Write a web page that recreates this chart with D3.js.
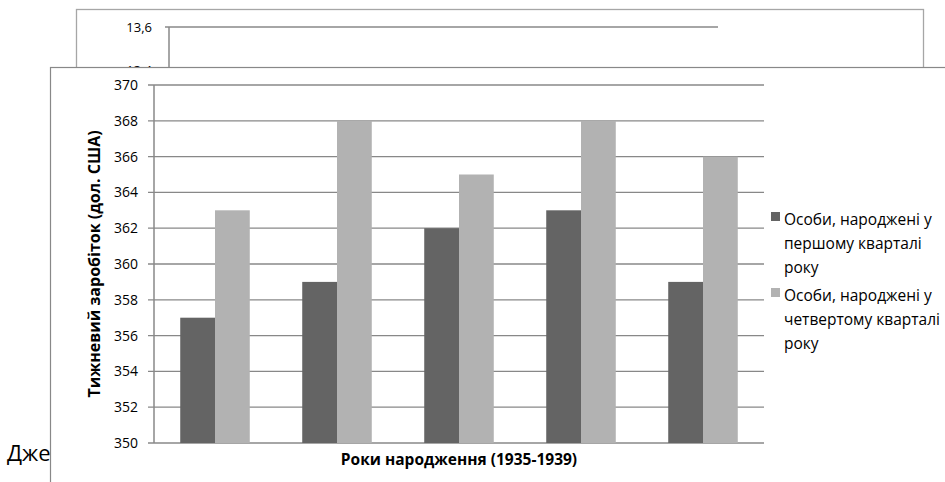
<!DOCTYPE html>
<html><head><meta charset="utf-8">
<script src="https://cdn.jsdelivr.net/npm/d3@7"></script>
<style>body{margin:0;background:#fff}svg{display:block;font-family:Calibri,Carlito,"Liberation Sans",Arial,sans-serif}</style>
</head><body>
<script>
const categories = ["1935","1936","1937","1938","1939"];
const seriesNames = ["Особи, народжені у першому кварталі року", "Особи, народжені у четвертому кварталі року"];
const q1Values = [357, 359, 362, 363, 359];
const q4Values = [363, 368, 365, 368, 366];
const yTicks = [350,352,354,356,358,360,362,364,366,368,370];
const legendLines = [["Особи, народжені у","першому кварталі","року"],["Особи, народжені у","четвертому кварталі","року"]];
const backTicks = [13.4, 13.6];

const W=945,H=482;
const svg=d3.select("body").append("svg").attr("width",W).attr("height",H);
const os='"Open Sans","Noto Sans",sans-serif';

// left text behind
svg.append("text").attr("x",7).attr("y",461).attr("font-size",22).attr("fill","#000")
  .attr("font-family",os).text("Джеймс");

// back chart
svg.append("rect").attr("x",76.5).attr("y",9.5).attr("width",847).attr("height",200)
  .attr("fill","#fff").attr("stroke","#a6a6a6").attr("stroke-width",1.3);
const yb=d3.scaleLinear().domain([13.4,13.6]).range([70,27]);
backTicks.forEach(t=>{
  svg.append("text").attr("x",152).attr("y",yb(t)+4.5).attr("text-anchor","end")
    .attr("font-size",13).attr("font-family",os).text(d3.format(".1f")(t).replace(".",","));
});
svg.append("line").attr("x1",165).attr("x2",718).attr("y1",yb(13.6)).attr("y2",yb(13.6)).attr("stroke","#888").attr("stroke-width",1.3);
svg.append("line").attr("x1",169).attr("x2",169).attr("y1",yb(13.6)).attr("y2",120).attr("stroke","#888").attr("stroke-width",1.5);

// front chart box
svg.append("rect").attr("x",50.5).attr("y",67.5).attr("width",1000).attr("height",500)
  .attr("fill","#fff").attr("stroke","#888").attr("stroke-width",1.2);

const x0=d3.scaleBand().domain(categories).range([154,764]).paddingInner(0.43).paddingOuter(0.215);
const x1=d3.scaleBand().domain([0,1]).range([0,x0.bandwidth()]);
const y=d3.scaleLinear().domain([350,370]).range([443,85]);

const g=svg.append("g");
g.selectAll("line.grid").data(yTicks).join("line")
  .attr("x1",148).attr("x2",764).attr("y1",d=>y(d)).attr("y2",d=>y(d))
  .attr("stroke","#888").attr("stroke-width",1.3);
g.selectAll("text.tick").data(yTicks).join("text")
  .attr("x",138).attr("y",d=>y(d)+5).attr("text-anchor","end")
  .attr("font-size",14).attr("font-family",os).text(d=>d);

const colors=["#646464","#b2b2b2"];
[q1Values,q4Values].forEach((vals,si)=>{
  g.selectAll("rect.s"+si).data(vals).join("rect")
    .attr("x",(d,i)=>x0(categories[i])+x1(si)).attr("width",x1.bandwidth())
    .attr("y",d=>y(d)).attr("height",d=>y(350)-y(d)).attr("fill",colors[si]);
});
g.append("line").attr("x1",154).attr("x2",154).attr("y1",85).attr("y2",443).attr("stroke","#888").attr("stroke-width",1.5);

svg.append("text").attr("x",459).attr("y",465).attr("text-anchor","middle")
  .attr("font-size",15.5).attr("font-weight","bold").attr("font-family",os)
  .text("Роки народження (1935-1939)");
svg.append("text").attr("transform","translate(100,264) rotate(-90)").attr("text-anchor","middle")
  .attr("font-size",16).attr("font-weight","bold").attr("font-family",os)
  .text("Тижневий заробіток (дол. США)");

const legTop=[220,296];
legendLines.forEach((lines,si)=>{
  svg.append("rect").attr("x",771).attr("y",legTop[si]-8).attr("width",9).attr("height",9).attr("fill",colors[si]);
  lines.forEach((l,li)=>{
    svg.append("text").attr("x",784).attr("y",legTop[si]+5+li*24).attr("font-size",15.5)
      .attr("font-family",os).text(l);
  });
});
</script>
</body></html>
